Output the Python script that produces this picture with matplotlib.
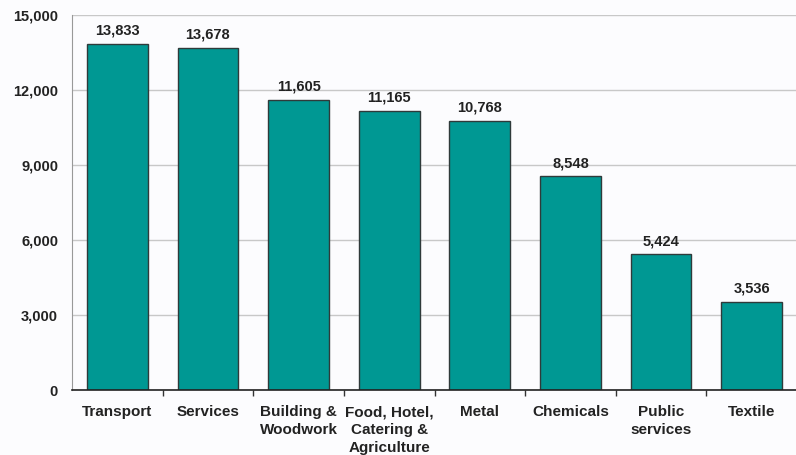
import matplotlib
matplotlib.use("Agg")
import matplotlib.pyplot as plt
from matplotlib.ticker import FuncFormatter, FixedLocator

categories = ["Transport", "Services", "Building &\nWoodwork", "Food, Hotel,\nCatering &\nAgriculture",
              "Metal", "Chemicals", "Public\nservices", "Textile"]
values = [13833, 13678, 11605, 11165, 10768, 8548, 5424, 3536]
yticks = [0, 3000, 6000, 9000, 12000, 15000]

plt.rcParams['font.family'] = ['Liberation Sans', 'DejaVu Sans']

fig = plt.figure(figsize=(7.96, 4.55), dpi=100)
fig.patch.set_facecolor('#fcfcfe')
ax = fig.add_axes([72/796, 65/455, 725/796, 375/455])
ax.set_facecolor('#fcfcfe')

x = list(range(len(categories)))
bars = ax.bar(x, values, width=0.67, color='#009893', edgecolor='#2f3a3a', linewidth=1.0, zorder=3)
for xi, v in zip(x, values):
    ax.text(xi, v + 250, f"{v:,}", ha='center', va='bottom', fontsize=10.5, fontweight='bold', color='#222222')

ax.set_xlim(-0.5, len(categories) - 0.5)
ax.set_ylim(0, 15000)
ax.set_yticks(yticks)
ax.yaxis.set_major_formatter(FuncFormatter(lambda v, p: f"{int(v):,}"))
ax.yaxis.grid(True, color='#c8c8c8', linewidth=1.0, zorder=0)
ax.tick_params(axis='y', length=0, pad=10, labelsize=10.5)
for lbl in ax.get_yticklabels():
    lbl.set_fontweight('bold')
    lbl.set_color('#222222')

ax.set_xticks(x)
ax.set_xticklabels(categories, fontsize=11, fontweight='bold', color='#222222', linespacing=1.35)
ax.tick_params(axis='x', length=0, pad=11)
ax.xaxis.set_minor_locator(FixedLocator([i + 0.5 for i in range(len(categories))]))
ax.tick_params(axis='x', which='minor', length=4, width=1, color='#333333', direction='out')

ax.spines['top'].set_visible(False)
ax.spines['right'].set_visible(False)
ax.spines['left'].set_color('#999999')
ax.spines['bottom'].set_color('#222222')
ax.spines['bottom'].set_linewidth(1.2)
ax.spines['bottom'].set_zorder(4)

fig.savefig('out.png', dpi=100, facecolor=fig.get_facecolor())
